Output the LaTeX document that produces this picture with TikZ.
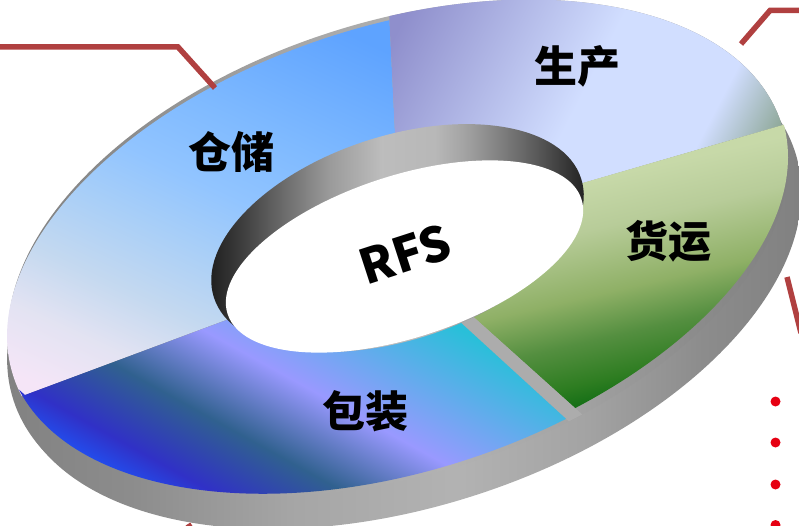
\documentclass[tikz,border=0pt]{standalone}
\usepackage{fontspec}
\newfontfamily\cjk{Noto Sans CJK SC}
\usetikzlibrary{positioning, calc}

% colour runs, the part from 25bp to 75bp fills the box
\pgfdeclarehorizontalshading{sideshade}{100bp}{rgb(0bp)=(.50,.50,.50); rgb(25bp)=(.50,.50,.50); rgb(34bp)=(.55,.55,.55); rgb(43.5bp)=(.65,.65,.65); rgb(53bp)=(.70,.70,.70); rgb(60.6bp)=(.64,.64,.64); rgb(67.3bp)=(.55,.55,.55); rgb(73.6bp)=(.50,.50,.50); rgb(100bp)=(.50,.50,.50)}
\pgfdeclarehorizontalshading{rimshade}{100bp}{rgb(0bp)=(.04,.04,.04); rgb(25.1bp)=(.04,.04,.04); rgb(26.9bp)=(.13,.13,.13); rgb(30.6bp)=(.24,.24,.24); rgb(34.6bp)=(.38,.38,.38); rgb(41.3bp)=(.60,.60,.60); rgb(48bp)=(.74,.74,.74); rgb(54.7bp)=(.72,.72,.72); rgb(58.3bp)=(.64,.64,.64); rgb(62.8bp)=(.50,.50,.50); rgb(67.3bp)=(.35,.35,.35); rgb(71.7bp)=(.19,.19,.19); rgb(75bp)=(.08,.08,.08); rgb(100bp)=(.08,.08,.08)}
\pgfdeclarehorizontalshading{storeshade}{100bp}{rgb(0bp)=(.96,.90,.97); rgb(26.8bp)=(.96,.90,.97); rgb(33bp)=(.89,.89,.95); rgb(39bp)=(.77,.85,.94); rgb(46bp)=(.66,.81,.97); rgb(52bp)=(.57,.77,1); rgb(59bp)=(.50,.73,1); rgb(71.6bp)=(.37,.64,1); rgb(100bp)=(.37,.64,1)}
\pgfdeclarehorizontalshading{makeshade}{100bp}{rgb(0bp)=(.56,.56,.80); rgb(31.6bp)=(.56,.56,.80); rgb(51bp)=(.82,.87,1); rgb(63.5bp)=(.82,.87,1); rgb(70.1bp)=(.56,.66,.60); rgb(100bp)=(.56,.66,.60)}
\pgfdeclarehorizontalshading{shipshade}{100bp}{rgb(0bp)=(.78,.85,.66); rgb(29.8bp)=(.78,.85,.66); rgb(37.8bp)=(.72,.80,.60); rgb(48.5bp)=(.56,.69,.40); rgb(55.8bp)=(.33,.56,.25); rgb(62.5bp)=(.18,.49,.13); rgb(65.7bp)=(.09,.44,.09); rgb(100bp)=(.09,.44,.09)}
\pgfdeclarehorizontalshading{packshade}{100bp}{rgb(0bp)=(.13,.31,.94); rgb(30bp)=(.13,.31,.94); rgb(34.1bp)=(.19,.19,.78); rgb(42.1bp)=(.19,.38,.56); rgb(51.25bp)=(.60,.60,1); rgb(66.9bp)=(.16,.75,.85); rgb(75bp)=(.25,.72,.90); rgb(100bp)=(.25,.72,.90)}

\begin{document}
\begin{tikzpicture}[
    x=1pt, y=-1pt,
    bandfill/.style 2 args={shading=#1, transform canvas={rotate=#2}},
    tilted/.style={rotate around={18:(#1)}},
    leader/.style={draw={rgb,255:red,176;green,64;blue,64}, line width=5.5pt},
    dot/.style={fill={rgb,255:red,230;green,0;blue,18}},
    label/.style={font=\cjk\bfseries\fontsize{43}{43}\selectfont, text=black, inner sep=0pt}
]
    \useasboundingbox (0,0) rectangle (799,526);

    % Centres of the ellipses
    \coordinate (side) at (402.5,274);
    \coordinate (sidelow) at (406,278);
    \coordinate (top) at (398,248);
    \coordinate (storetop) at (398.5,251);
    \coordinate (shiptop) at (392,245);
    \coordinate (packtop) at (396,245);
    \coordinate (rim) at (397.5,238);
    \coordinate (hole) at (404.5,256.5);

    % Side wall, its thin lip shows above storage
    \shade[shading=sideshade, tilted=side] (side) ellipse (409pt and 228pt);
    \shade[shading=sideshade, tilted=sidelow] (sidelow) ellipse (409pt and 228pt);
    \shade[shading=sideshade, tilted=top] (top) ellipse (403pt and 226pt);

    % Storage
    \begin{scope}
        \clip[tilted=storetop] (storetop) ellipse (405pt and 225pt);
        \clip (400,255) -- (-50,423) -- (-50,-30) -- (387,-30) -- (400,236) -- cycle;
        \shade[bandfill={storeshade}{65}] (-350,-1200) rectangle (150,1200);
    \end{scope}

    % Production
    \begin{scope}
        \clip[tilted=top] (top) ellipse (403pt and 226pt);
        \clip (400,236) -- (387,-30) -- (900,-30) -- (900,91) -- cycle;
        \shade[bandfill={makeshade}{-27.5}] (300,-1200) rectangle (800,1200);
    \end{scope}

    % Shipping
    \begin{scope}
        \clip[tilted=shiptop] (shiptop) ellipse (410pt and 222pt);
        \clip (400,236) -- (900,91) -- (900,700) -- (789,600) -- (400,251) -- cycle;
        \shade[bandfill={shipshade}{-77}] (280,-1200) rectangle (580,1200);
    \end{scope}

    % Gap between shipping and packing
    \begin{scope}
        \clip[tilted=top] (top) ellipse (403pt and 226pt);
        \fill[gray!65] (400,251) -- (789,600) -- (764,600) -- (400,267) -- cycle;
    \end{scope}

    % Packing
    \begin{scope}
        \clip[tilted=packtop] (packtop) ellipse (405pt and 226pt);
        \clip (400,267) -- (764,600) -- (-50,600) -- (15,386) -- (25,395) -- (400,255.5) -- cycle;
        \shade[bandfill={packshade}{61}] (-400,-1200) rectangle (0,1200);
    \end{scope}

    % Inner wall and opening
    \shade[shading=rimshade, tilted=rim] (rim) ellipse (193pt and 102pt);
    \fill[white, tilted=hole] (hole) ellipse (186pt and 81pt);

    % Labels
    \node[label] (make) at (577,66) {生产};
    \node[label] (store) at (231,152) {仓储};
    \node[label] (ship) at (668,241) {货运};
    \node[label] (pack) at (365,411) {包装};
    \node[label, font=\cjk\bfseries\fontsize{48}{48}\selectfont, rotate=18] (rfs) at (405,254) {RFS};

    % Leader lines
    \coordinate (la) at (-5,47);
    \coordinate (lb) at (178,47);
    \coordinate (lc) at (215,88);
    \draw[leader] (la) -- (lb) -- (lc);
    \coordinate (ra) at (741,44);
    \coordinate (rb) at (770,10.5);
    \coordinate (rc) at (805,10.5);
    \draw[leader] (ra) -- (rb) -- (rc);
    \coordinate (sa) at (787,277);
    \coordinate (sb) at (801,333);
    \draw[leader] (sa) -- (sb);
    \coordinate (ba) at (188,524);
    \coordinate (bb) at (193,532);
    \draw[leader] (ba) -- (bb);

    % Bullets
    \foreach \y in {401.5, 442.5, 484.5, 525}
        \path[dot] (775.5,\y) circle (5pt);
\end{tikzpicture}
\end{document}
